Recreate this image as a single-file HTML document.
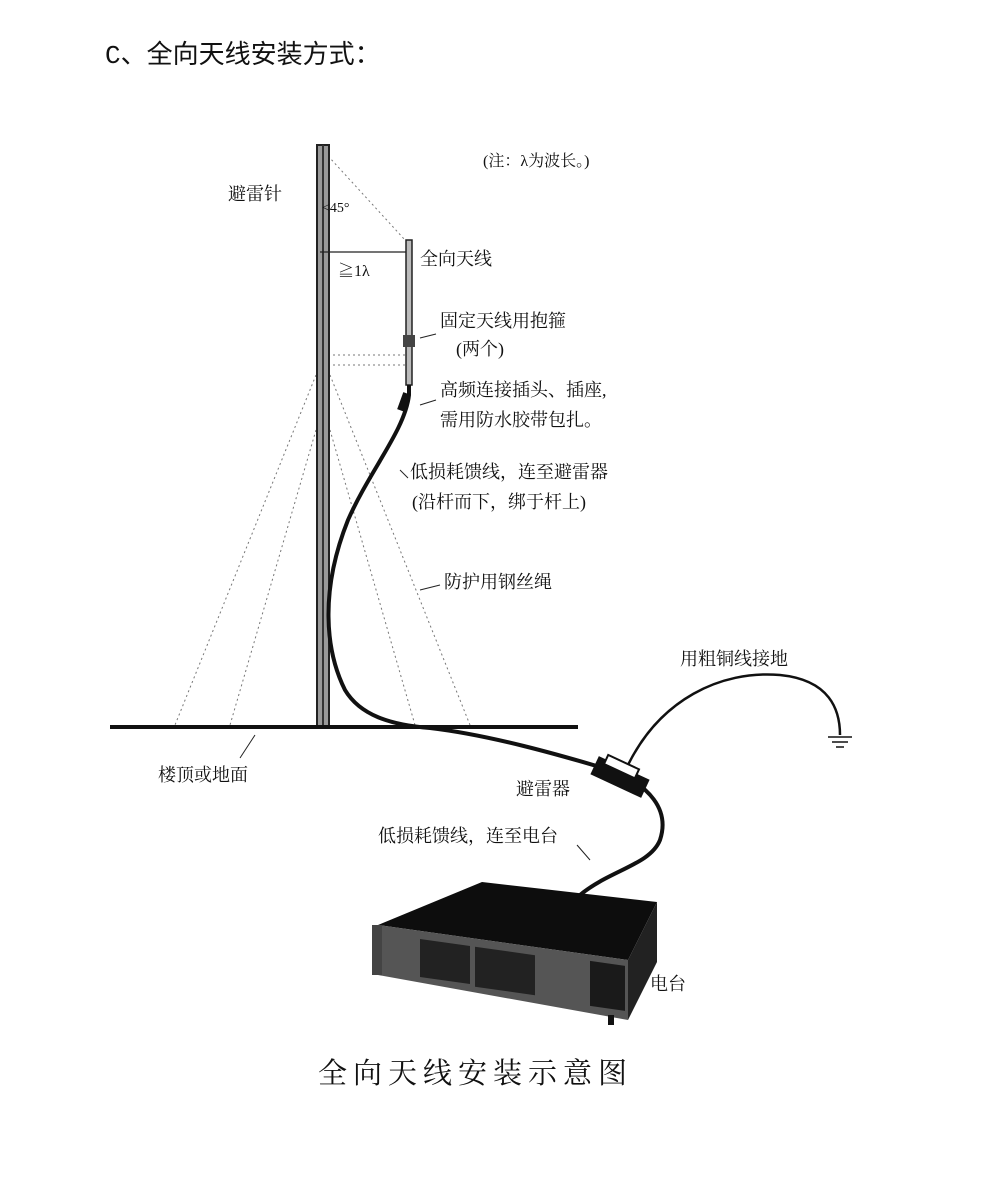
<!DOCTYPE html>
<html><head><meta charset="utf-8"><style>
html,body{margin:0;padding:0;background:#fff;}
svg{display:block;}
text{font-family:"Liberation Serif","Noto Serif CJK SC","Noto Sans CJK SC",serif;fill:#111;}
</style></head><body>
<svg width="1000" height="1196" viewBox="0 0 1000 1196" xmlns="http://www.w3.org/2000/svg">
<text x="105" y="63" font-size="26" style="font-family:'Liberation Mono','Noto Sans CJK SC',monospace">C、全向天线安装方式：</text>
<g stroke="#777" stroke-width="1" stroke-dasharray="2,3" fill="none">
<line x1="316" y1="375" x2="175" y2="725"/>
<line x1="330" y1="375" x2="470" y2="725"/>
<line x1="316" y1="430" x2="230" y2="725"/>
<line x1="330" y1="430" x2="415" y2="725"/>
<line x1="318" y1="145" x2="405" y2="240"/>
<line x1="318" y1="355" x2="410" y2="355"/>
<line x1="318" y1="365" x2="410" y2="365"/>
</g>
<rect x="317" y="145" width="12" height="583" fill="#999" stroke="#222" stroke-width="2"/>
<line x1="323" y1="145" x2="323" y2="728" stroke="#333" stroke-width="2"/>
<line x1="110" y1="727" x2="578" y2="727" stroke="#111" stroke-width="4"/>
<rect x="406" y="240" width="6" height="145" fill="#bbb" stroke="#222" stroke-width="1.5"/>
<rect x="403" y="335" width="12" height="12" fill="#444"/>
<line x1="320" y1="252" x2="406" y2="252" stroke="#222" stroke-width="1.2"/>
<text x="338" y="276" font-size="16">≧1λ</text>
<text x="322" y="212" font-size="14">&lt;45°</text>
<path d="M409,385 L409,395 C405,430 370,470 348,520 C320,590 325,650 345,690 C360,715 390,725 430,728 C490,735 560,755 610,770 C650,785 670,810 660,840 C650,865 610,870 580,895" stroke="#111" stroke-width="4" fill="none"/>
<rect x="400" y="393" width="8" height="18" fill="#111" transform="rotate(20 404 402)"/>
<g transform="rotate(25 620 777)">
<rect x="592" y="767" width="56" height="20" fill="#111"/>
<rect x="600" y="762" width="34" height="10" fill="#fff" stroke="#111" stroke-width="2"/>
</g>
<path d="M628,765 C660,700 720,670 780,675 C830,680 840,710 840,735" stroke="#111" stroke-width="2.5" fill="none"/>
<g stroke="#111" stroke-width="1.5"><line x1="828" y1="737" x2="852" y2="737"/><line x1="832" y1="742" x2="848" y2="742"/><line x1="836" y1="747" x2="844" y2="747"/></g>
<!-- radio -->
<polygon points="378,925 482,882 657,902 628,960" fill="#0d0d0d"/>
<polygon points="378,925 628,960 628,1020 378,975" fill="#555"/>
<polygon points="628,960 657,902 657,962 628,1020" fill="#222"/>
<rect x="372" y="925" width="10" height="50" fill="#444"/>
<rect x="420" y="940" width="50" height="38" fill="#222" transform="skewY(8) translate(0,-60)"/>
<rect x="475" y="948" width="60" height="40" fill="#222" transform="skewY(8) translate(0,-68)"/>
<rect x="590" y="960" width="35" height="45" fill="#1a1a1a" transform="skewY(8) translate(0,-82)"/>
<rect x="608" y="1015" width="6" height="10" fill="#111"/>
<g font-size="18">
<text x="228" y="200">避雷针</text>
<text x="483" y="166" font-size="16">(注：λ为波长。)</text>
<text x="420" y="265">全向天线</text>
<text x="440" y="327">固定天线用抱箍</text>
<text x="456" y="355">(两个)</text>
<text x="440" y="396">高频连接插头、插座,</text>
<text x="440" y="426">需用防水胶带包扎。</text>
<text x="410" y="478">低损耗馈线，连至避雷器</text>
<text x="412" y="508">(沿杆而下，绑于杆上)</text>
<text x="444" y="588">防护用钢丝绳</text>
<text x="680" y="665">用粗铜线接地</text>
<text x="158" y="781">楼顶或地面</text>
<text x="516" y="795">避雷器</text>
<text x="378" y="842">低损耗馈线，连至电台</text>
<text x="650" y="990">电台</text>
</g>
<g stroke="#222" stroke-width="1" fill="none">
<line x1="420" y1="338" x2="436" y2="334"/>
<line x1="420" y1="405" x2="436" y2="400"/>
<line x1="400" y1="470" x2="408" y2="478"/>
<line x1="420" y1="590" x2="440" y2="585"/>
<line x1="240" y1="758" x2="255" y2="735"/>
<line x1="577" y1="845" x2="590" y2="860"/>
</g>
<text x="318" y="1083" font-size="29" letter-spacing="6">全向天线安装示意图</text>
</svg>
</body></html>
